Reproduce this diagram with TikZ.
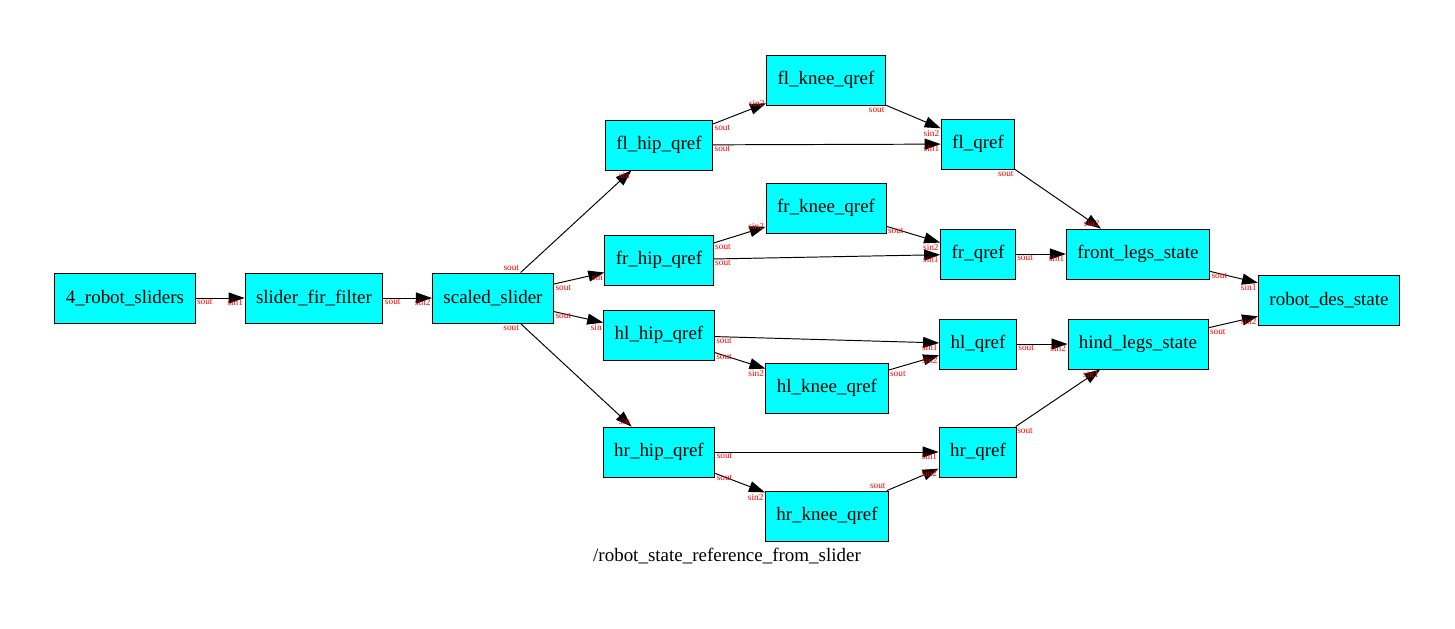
\documentclass[tikz,border=0pt]{standalone}
\usepackage{fontspec}
\setmainfont{Liberation Serif}
\usetikzlibrary{arrows.meta}
\definecolor{boxcyan}{RGB}{0,255,255}

\begin{document}
\begin{tikzpicture}[x=0.02cm,y=-0.02cm]
	\tikzset{block/.style={shape=rectangle,draw=black,fill=boxcyan,line width=0.55pt,minimum height=1cm,inner xsep=0.22cm,font=\fontsize{10.8}{13}\selectfont},
		srcport/.style={at start,anchor=north west,text=red,inner sep=0.6pt,font=\fontsize{5.3}{6}\selectfont},
		dstport/.style={at end,anchor=north east,text=red,inner sep=0.6pt,font=\fontsize{5.3}{6}\selectfont},
		every edge/.style={draw,line width=0.55pt,-{Triangle[length=0.32cm,width=0.22cm]}}}
	\useasboundingbox (0,0) rectangle (1455,629);
	\node (sliders) at (125,298) [block] {4\_robot\_sliders};
	\node (fir) at (314,298) [block] {slider\_fir\_filter};
	\node (scaled) at (493,298) [block] {scaled\_slider};
	\node (flhip) at (659,145) [block] {fl\_hip\_qref};
	\node (frhip) at (659,260) [block] {fr\_hip\_qref};
	\node (hlhip) at (659,335) [block] {hl\_hip\_qref};
	\node (hrhip) at (659,452) [block] {hr\_hip\_qref};
	\node (flknee) at (826,80) [block] {fl\_knee\_qref};
	\node (frknee) at (826,208) [block] {fr\_knee\_qref};
	\node (hlknee) at (827,388) [block] {hl\_knee\_qref};
	\node (hrknee) at (827,516) [block] {hr\_knee\_qref};
	\node (flq) at (978,144) [block] {fl\_qref};
	\node (frq) at (978,254) [block] {fr\_qref};
	\node (hlq) at (978,344) [block] {hl\_qref};
	\node (hrq) at (978,452) [block] {hr\_qref};
	\node (front) at (1138,254) [block] {front\_legs\_state};
	\node (hind) at (1138,344) [block] {hind\_legs\_state};
	\node (robot) at (1329,300) [block] {robot\_des\_state};
	\node (title) at (727,556) [font=\fontsize{10.8}{13}\selectfont] {/robot\_state\_reference\_from\_slider};
	\path (sliders) edge node[srcport]{sout} node[dstport]{sin1} (fir)
		(fir) edge node[srcport]{sout} node[dstport]{sin2} (scaled)
		(scaled) edge node[srcport,anchor=south east]{sout} node[dstport]{sin} (flhip)
		edge node[srcport]{sout} node[dstport]{sin} (frhip)
		edge node[srcport]{sout} node[dstport]{sin} (hlhip)
		edge node[srcport,anchor=north east]{sout} node[dstport,anchor=south east]{sin} (hrhip)
		(flhip) edge node[srcport]{sout} node[dstport,anchor=east]{sin2} (flknee)
		edge node[srcport]{sout} node[dstport]{sin1} (flq)
		(flknee) edge node[srcport,anchor=north east]{sout} node[dstport]{sin2} (flq)
		(frhip) edge node[srcport]{sout} node[dstport,anchor=east]{sin2} (frknee)
		edge node[srcport]{sout} node[dstport]{sin1} (frq)
		(frknee) edge node[srcport]{sout} node[dstport]{sin2} (frq)
		(hlhip) edge node[srcport]{sout} node[dstport]{sin1} (hlq)
		edge node[srcport]{sout} node[dstport]{sin2} (hlknee)
		(hlknee) edge node[srcport]{sout} node[dstport]{sin2} (hlq)
		(hrhip) edge node[srcport]{sout} node[dstport]{sin1} (hrq)
		edge node[srcport]{sout} node[dstport]{sin2} (hrknee)
		(hrknee) edge node[srcport,anchor=south east]{sout} node[dstport]{sin2} (hrq)
		(flq) edge node[srcport,anchor=north east]{sout} node[dstport,anchor=south east]{sin2} (front)
		(frq) edge node[srcport]{sout} node[dstport]{sin1} (front)
		(hlq) edge node[srcport]{sout} node[dstport]{sin2} (hind)
		(hrq) edge node[srcport]{sout} node[dstport]{sin1} (hind)
		(front) edge node[srcport]{sout} node[dstport]{sin1} (robot)
		(hind) edge node[srcport]{sout} node[dstport]{sin2} (robot);
\end{tikzpicture}
\end{document}
